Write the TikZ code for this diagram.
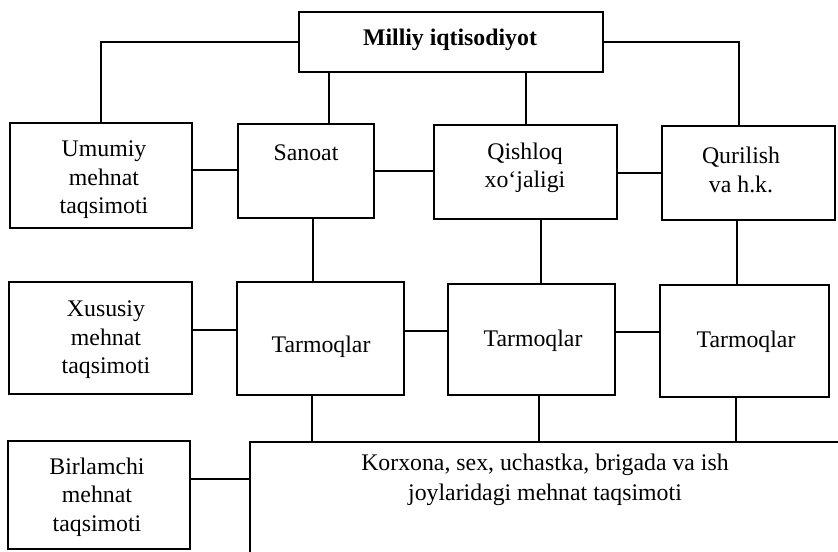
\documentclass[tikz,border=0pt]{standalone}
\usepackage{fontspec}
\setmainfont{Liberation Serif}
\usetikzlibrary{fit}
\begin{document}
\begin{tikzpicture}[x=0.5pt,y=-0.5pt,
  box/.style={draw, line width=0.7pt, inner sep=0pt},
  txt/.style={align=center, font=\fontsize{11.9}{14.2}\selectfont, inner sep=0pt},
  con/.style={line width=1pt}]
\useasboundingbox (0,0) rectangle (838,551);
\clip (0,0) rectangle (838,551);
% boxes
\node[box, fit={(299,12) (603,72)}] (mil) {};
\node[box, fit={(10,123) (192,228)}] (umu) {};
\node[box, fit={(238,124) (374,218)}] (san) {};
\node[box, fit={(434,125) (617,219)}] (qis) {};
\node[box, fit={(662,126) (835,220)}] (qur) {};
\node[box, fit={(9,282) (192,394)}] (xus) {};
\node[box, fit={(237,282) (404,395)}] (ta1) {};
\node[box, fit={(448,284) (615,395)}] (ta2) {};
\node[box, fit={(660,285) (829,397)}] (ta3) {};
\node[box, fit={(8,441) (190,549)}] (bir) {};
\node[box, fit={(250,442) (870,590)}] (big) {};
% texts
\node[txt, font=\fontsize{11.9}{14.2}\selectfont\bfseries] (tmil) at (450,40) {Milliy iqtisodiyot};
\node[txt] (tumu) at (104,180) {Umumiy\\mehnat\\taqsimoti};
\node[txt] (tsan) at (306,153) {Sanoat};
\node[txt] (tqis) at (525,168) {Qishloq\\xo‘jaligi};
\node[txt] (tqur) at (741,170) {Qurilish\\va h.k.};
\node[txt] (txus) at (106,340) {Xususiy\\mehnat\\taqsimoti};
\node[txt] (tta1) at (321,347) {Tarmoqlar};
\node[txt] (tta2) at (533,341) {Tarmoqlar};
\node[txt] (tta3) at (746,342) {Tarmoqlar};
\node[txt] (tbir) at (97,497) {Birlamchi\\mehnat\\taqsimoti};
\node[txt, font=\fontsize{11.9}{15}\selectfont] (tbig) at (545,480) {Korxona, sex, uchastka, brigada va ish\\joylaridagi mehnat taqsimoti};
% connector guides
\coordinate (xa) at (329,0);
\coordinate (xb) at (526,0);
\coordinate (xq) at (739,0);
\coordinate (xc) at (313,0);
\coordinate (xd) at (541,0);
\coordinate (xe) at (737,0);
\coordinate (xf) at (312,0);
\coordinate (xg) at (539,0);
\coordinate (xh) at (736,0);
\coordinate (ya) at (0,170);
\coordinate (yb) at (0,171);
\coordinate (yc) at (0,173);
\coordinate (yd) at (0,330);
\coordinate (ye) at (0,331);
\coordinate (yf) at (0,332);
\coordinate (yg) at (0,479);
% connectors
\draw[con] (mil.west) -| (umu.north);
\draw[con] (mil.east) -| (qur.north -| xq);
\draw[con] (mil.south -| xa) -- (san.north -| xa);
\draw[con] (mil.south -| xb) -- (qis.north -| xb);
\draw[con] (umu.east |- ya) -- (san.west |- ya);
\draw[con] (san.east |- yb) -- (qis.west |- yb);
\draw[con] (qis.east |- yc) -- (qur.west |- yc);
\draw[con] (san.south -| xc) -- (ta1.north -| xc);
\draw[con] (qis.south -| xd) -- (ta2.north -| xd);
\draw[con] (qur.south -| xe) -- (ta3.north -| xe);
\draw[con] (xus.east |- yd) -- (ta1.west |- yd);
\draw[con] (ta1.east |- ye) -- (ta2.west |- ye);
\draw[con] (ta2.east |- yf) -- (ta3.west |- yf);
\draw[con] (ta1.south -| xf) -- (big.north -| xf);
\draw[con] (ta2.south -| xg) -- (big.north -| xg);
\draw[con] (ta3.south -| xh) -- (big.north -| xh);
\draw[con] (bir.east |- yg) -- (big.west |- yg);
\end{tikzpicture}
\end{document}
